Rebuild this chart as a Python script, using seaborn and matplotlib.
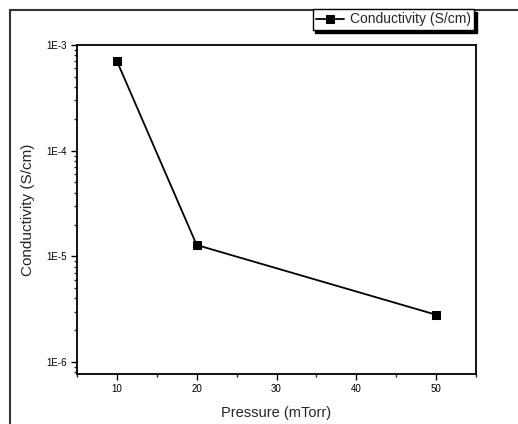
import numpy as np
import pandas as pd
import matplotlib
matplotlib.use("Agg")
import matplotlib.pyplot as plt
from matplotlib.lines import Line2D
from matplotlib.ticker import FixedLocator, FixedFormatter, LogLocator, NullFormatter, MultipleLocator
import seaborn as sns

# Data
pressure = [10, 20, 50]
conductivity = [7.05e-4, 1.28e-5, 2.8e-6]
series_name = "Conductivity (S/cm)"
x_label = "Pressure (mTorr)"
y_label = "Conductivity (S/cm)"
x_ticks = [10, 20, 30, 40, 50]
y_ticks = [1e-6, 1e-5, 1e-4, 1e-3]
y_tick_labels = ["1E-6", "1E-5", "1E-4", "1E-3"]

df = pd.DataFrame({"Pressure": pressure, "Conductivity": conductivity, "series": series_name})

sns.set_style("ticks")
plt.rcParams["font.family"] = ["Liberation Sans", "DejaVu Sans"]

fig = plt.figure(figsize=(5.18, 4.24), dpi=100)
ax = fig.add_axes([77/518, 1-374/424, (476-77)/518, (374-45)/424])

sns.lineplot(data=df, x="Pressure", y="Conductivity", hue="series", palette=["black"],
             marker="s", markersize=5.5, markeredgecolor="black", linewidth=1.3, ax=ax)

ax.set_yscale("log")
ax.set_xlim(5, 55)
ax.set_ylim(7.7e-7, 1e-3)

ax.xaxis.set_major_locator(FixedLocator(x_ticks))
ax.xaxis.set_minor_locator(MultipleLocator(5))
ax.yaxis.set_major_locator(FixedLocator(y_ticks))
ax.yaxis.set_major_formatter(FixedFormatter(y_tick_labels))
ax.yaxis.set_minor_locator(LogLocator(base=10, subs=np.arange(2, 10)))
ax.yaxis.set_minor_formatter(NullFormatter())

ax.tick_params(axis="both", which="major", direction="out", length=4, width=1, labelsize=7, colors="black")
ax.tick_params(axis="both", which="minor", direction="out", length=2.5, width=1)
ax.tick_params(top=False, right=False)
for s in ax.spines.values():
    s.set_visible(True)
    s.set_linewidth(1.3)
    s.set_color("black")

ax.set_xlabel(x_label, fontsize=10.5, labelpad=8)
ax.set_ylabel(y_label, fontsize=11, labelpad=8)

handles, labels = ax.get_legend_handles_labels()
leg = ax.legend(handles, [series_name], loc="upper right",
                bbox_to_anchor=(474/518, 1-9/424), bbox_transform=fig.transFigure,
                borderaxespad=0, frameon=True, fancybox=False, framealpha=1,
                edgecolor="black", fontsize=10, handlelength=2.0, handletextpad=0.4,
                borderpad=0.25, shadow={"color": "black", "alpha": 1})
leg.get_frame().set_linewidth(1.0)

# outer page frame
fx = 10/518
fy = 1 - 10/424
fig.add_artist(Line2D([fx, 1], [fy, fy], transform=fig.transFigure, color="#333333", lw=1.5, zorder=0))
fig.add_artist(Line2D([fx, fx], [0, fy], transform=fig.transFigure, color="#333333", lw=1.5, zorder=0))

fig.savefig("out.png", dpi=100, facecolor="white")
